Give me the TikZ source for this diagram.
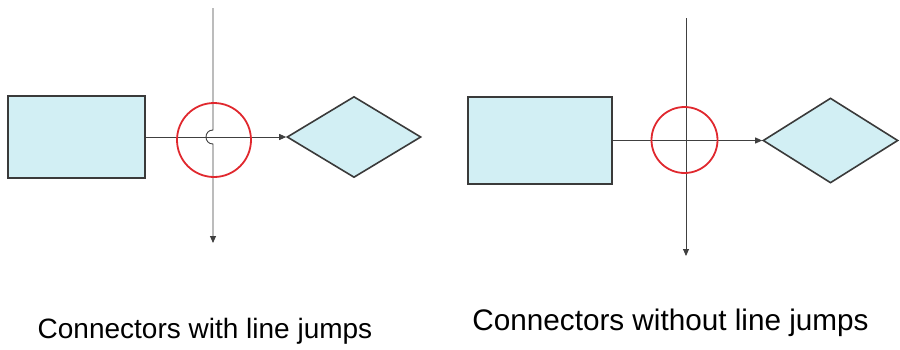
\documentclass[tikz,border=0pt]{standalone}
\usepackage{fontspec}
\setmainfont{Liberation Sans}
\usetikzlibrary{shapes.geometric,arrows.meta}
\definecolor{boxfill}{HTML}{D2EFF4}
\definecolor{boxline}{HTML}{3A3A3A}
\definecolor{conn}{HTML}{404040}
\definecolor{ring}{HTML}{E0282E}
\tikzset{
  rectbox/.style={draw=boxline,line width=1.6pt,fill=boxfill,minimum width=#1,inner sep=0pt},
  diam/.style={diamond,draw=boxline,line width=1.6pt,fill=boxfill,inner sep=0pt,minimum width=134pt,minimum height=81pt},
  conline/.style={draw=conn,line width=0.9pt,-{Triangle[length=7pt,width=6pt]}},
  redring/.style={draw=ring,line width=1.8pt,circle,inner sep=0pt,minimum size=#1},
  caption/.style={text=black,inner sep=0pt}
}
\begin{document}
\begin{tikzpicture}[x=1pt,y=-1pt]
\useasboundingbox (0,0) rectangle (900,349);
% left
\node[rectbox=137pt,minimum height=82pt] (r1) at (76.5,137) {};
\node[diam] (d1) at (354,137) {};
\draw[conline] (r1.east) -- (d1.west);
\coordinate (t1) at (213,8);
\coordinate (b1) at (213,243);
\coordinate (j1) at (213,130);
\coordinate (j2) at (213,144);
\draw[conline] (t1) -- (j1) .. controls (203.7,130) and (203.7,144) .. (j2) -- (b1);
\node[redring=74pt] (c1) at (214,140) {};
\node[caption,font=\fontsize{28}{32}\selectfont] (l1) at (205,331) {Connectors with line jumps};
% right
\node[rectbox=144pt,minimum height=87pt] (r2) at (540,140.5) {};
\node[diam,minimum width=135pt,minimum height=85pt] (d2) at (830.5,140.5) {};
\draw[conline] (r2.east) -- (d2.west);
\coordinate (t2) at (686,18);
\coordinate (b2) at (686,256);
\draw[conline] (t2) -- (b2);
\node[redring=66pt] (c2) at (684.5,140) {};
\node[caption,font=\fontsize{29.7}{34}\selectfont] (l2) at (670.5,323) {Connectors without line jumps};
\end{tikzpicture}
\end{document}
